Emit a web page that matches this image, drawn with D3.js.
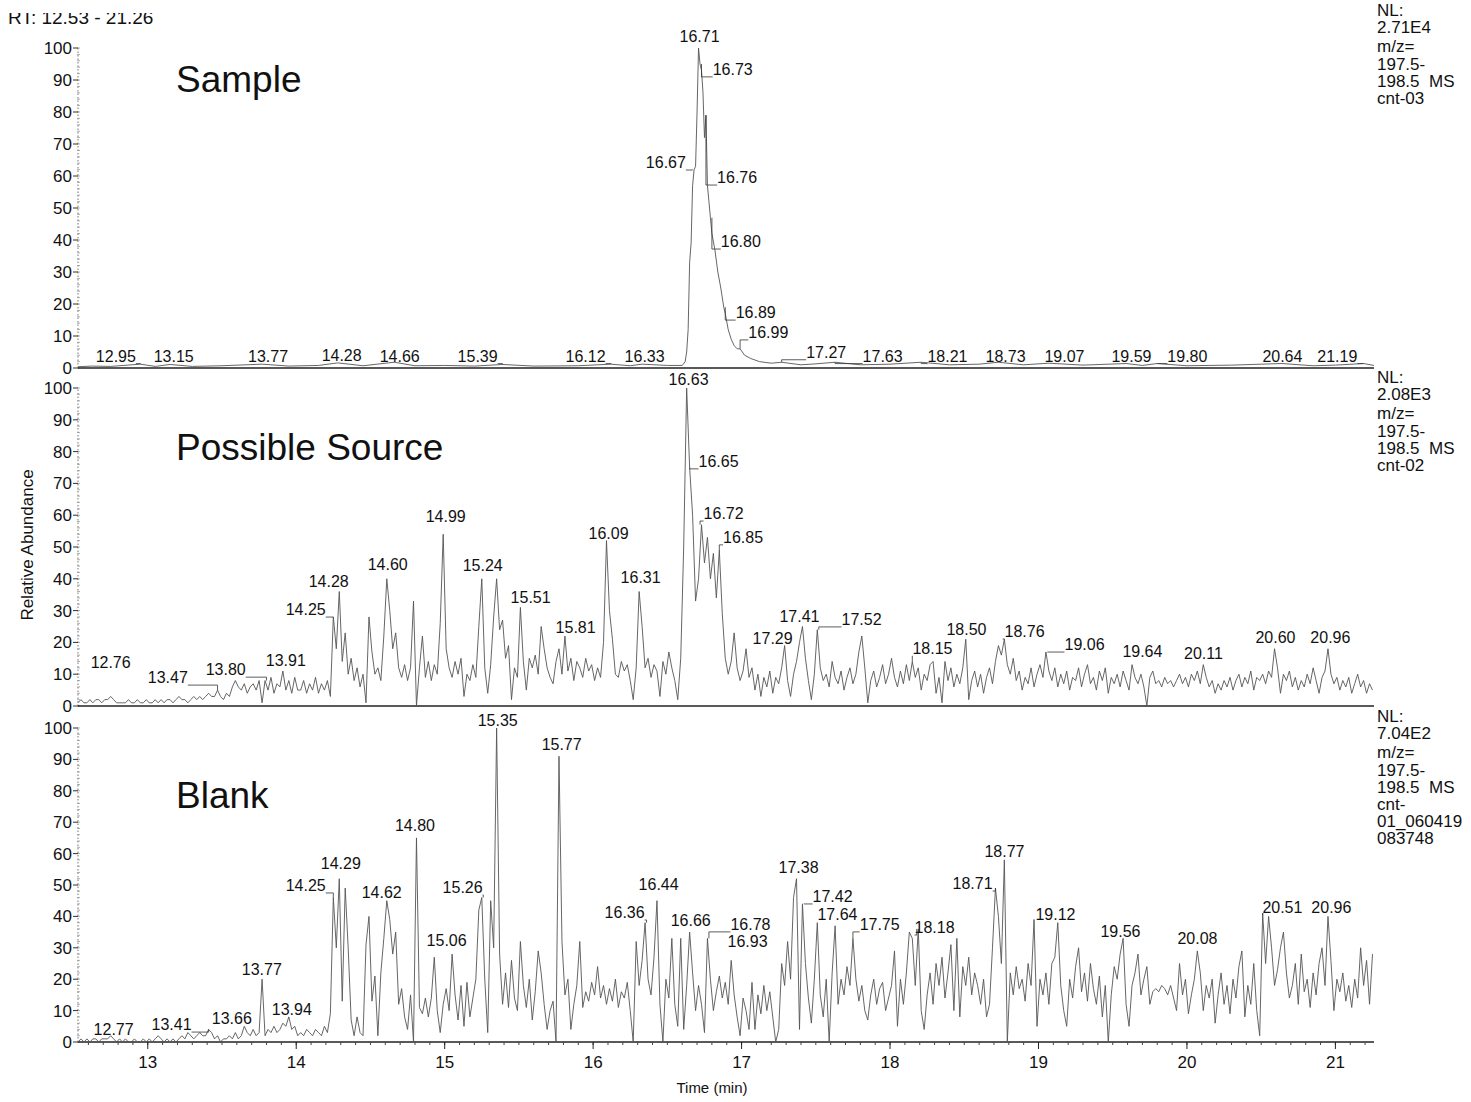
<!DOCTYPE html>
<html>
<head>
<meta charset="utf-8">
<script src="https://cdn.jsdelivr.net/npm/d3@7/dist/d3.min.js"></script>
<style>
  body { margin: 0; background: #fff; }
  text { font-family: "Liberation Sans", Arial, sans-serif; fill: #111; }
</style>
</head>
<body>
<div id="chart"></div>
<script>
////////////////////////////////////////////////////////////////////////////////
// Data (relative abundance, %)
const scanStart = 12.53;   // first scan (min)
const scanStep = 0.02;     // minutes between the values below
const timeDomain = [12.53, 21.26];
const timeTicks = [13, 14, 15, 16, 17, 18, 19, 20, 21];
const abundanceTicks = [0, 10, 20, 30, 40, 50, 60, 70, 80, 90, 100];

// Sample: flat baseline except the one peak, [time, abundance]
const samplePoints = [
  [12.53,0.4],[12.62,0.6],[12.75,0.5],[12.95,1.2],[13.05,0.5],[13.15,1.1],[13.3,0.5],[13.5,0.7],
  [13.77,1.2],[13.95,0.6],[14.15,0.8],[14.28,1.6],[14.45,0.7],[14.66,1.8],[14.8,0.7],[15.0,0.8],
  [15.2,0.6],[15.39,1.1],[15.6,0.6],[15.9,0.7],[16.12,1.2],[16.25,0.7],[16.33,1.2],[16.5,0.8],
  [16.6,0.8],[16.62,2],[16.63,5],[16.64,12],[16.65,33],[16.66,39],[16.67,57],[16.68,62],[16.69,63],
  [16.70,80],[16.71,100],[16.72,95],[16.73,93],[16.74,86],[16.75,72],[16.76,79],[16.77,57],[16.78,52],
  [16.79,47],[16.80,42],[16.82,37],[16.84,30],[16.86,25],[16.88,19],[16.89,17],[16.91,12],[16.93,9],
  [16.95,7],[16.97,6],[16.99,6],[17.02,4],[17.06,3],[17.12,2],[17.2,1.5],[17.27,1.8],[17.4,1],
  [17.5,1.3],[17.63,1.8],[17.8,1],[18.0,1.2],[18.21,1.8],[18.4,1],[18.6,1.2],[18.73,1.8],[18.9,1],
  [19.07,1.5],[19.3,0.9],[19.59,1.4],[19.7,0.8],[19.8,1.4],[20.0,0.7],[20.3,0.9],[20.64,1.4],
  [20.85,0.7],[21.0,0.9],[21.19,1.4],[21.26,0.8]
];

// Possible Source: one value per scan from 12.53 min
const sourceValues = [
  1,2,1,1,2, 1,2,2,1,2, 2,3,2,1,1, 1,1,2,1,1, 2,1,1,2,1,
  1,2,1,2,1, 2,2,1,2,3, 2,2,1,2,3, 2,3,2,3,4, 3,3,5,3,2,
  4,3,6,8,6, 5,7,4,6,7, 5,8,1,8,5, 9,4,7,6,11, 5,8,4,9,5,
  5,8,4,7,5, 9,4,7,5,8, 3,28,18,36,14, 23,10,15,8,12, 6,10,1,28,17,
  10,12,8,22,40, 30,18,23,12,9, 13,8,12,33,0, 12,22,9,14,8, 13,10,26,54,18,
  12,9,14,10,15, 3,10,8,13,9, 25,40,12,4,13, 28,40,24,27,15, 19,2,12,9,31,
  14,5,15,12,16, 10,25,18,12,9, 7,14,18,10,22, 11,15,8,14,12, 9,15,11,13,8,
  12,9,20,52,30, 21,10,9,14,11, 13,8,2,12,36, 25,12,15,9,13, 11,3,14,10,17,
  12,8,2,15,50, 100,75,60,33,40, 57,45,53,40,48, 34,49,29,15,10, 14,23,12,8,11,
  18,9,12,5,10, 3,9,6,11,4, 9,7,12,19,8, 3,10,14,20,25, 15,8,2,10,24,
  12,8,10,6,14, 9,7,11,5,9, 12,7,10,17,22, 12,1,8,11,6, 9,13,7,10,15,
  9,6,11,7,13, 8,14,9,12,5, 10,8,13,14,4, 9,1,14,8,12, 6,10,7,12,21,
  2,8,11,6,10, 4,9,12,7,14, 19,16,21,13,10, 15,8,11,5,9, 7,12,6,10,13,
  9,17,11,8,12, 6,10,7,11,5, 9,8,12,6,10, 13,7,9,5,11, 8,12,4,9,7,
  10,6,11,8,5, 13,9,7,10,6, 0,9,11,7,8, 6,9,7,8,6, 8,10,7,9,6,
  10,8,11,7,13, 9,6,8,4,7, 5,8,6,9,5, 8,10,6,9,7, 11,5,9,8,10,
  7,11,9,18,12, 4,10,8,11,6, 9,5,8,6,10, 7,12,8,4,9, 11,18,10,7,9,
  5,8,6,9,4, 7,10,6,8,4, 7,5
];

// Blank: one value per scan from 12.53 min
const blankValues = [
  0,1,0,1,0, 1,1,0,1,1, 1,2,1,0,1, 0,1,0,0,1, 0,0,1,0,1,
  0,1,2,1,0, 1,0,1,0,1, 2,1,3,2,1, 2,3,2,2,4, 3,1,2,0,1,
  1,2,1,3,1, 2,5,3,2,4, 2,3,20,2,4, 3,5,3,4,6, 5,8,4,5,2,
  3,2,4,3,2, 4,3,2,5,3, 9,46,30,52,13, 49,30,7,2,8, 3,2,31,40,13,
  21,2,22,33,45, 39,28,35,12,17, 8,4,15,0,65, 11,9,14,8,14, 27,10,3,12,17,
  10,28,15,7,18, 5,19,8,14,20, 42,46,20,3,45, 30,100,28,12,22, 11,26,14,10,32,
  18,11,20,7,16, 29,22,12,4,10, 13,0,91,32,15, 20,4,12,18,32, 11,16,13,19,15,
  24,14,18,12,17, 13,20,11,16,14, 19,10,0,32,18, 26,38,20,15,27, 45,12,0,20,14,
  33,12,5,33,4, 18,35,22,10,18, 12,3,33,20,10, 16,21,14,19,12, 26,15,8,2,14,
  10,4,19,4,15, 9,18,10,16,8, 0,4,25,18,32, 20,46,52,4,44, 25,14,6,20,38,
  15,8,20,0,22, 37,12,20,15,24, 18,33,20,13,18, 10,7,15,20,12, 17,19,10,14,18,
  29,5,20,12,22, 35,33,18,36,10, 4,15,22,12,25, 18,27,14,22,31, 10,33,8,24,18,
  27,15,22,18,12, 20,8,12,30,49, 40,25,58,0,22, 15,24,17,20,13, 25,18,39,5,20,
  15,22,12,25,27, 38,18,10,5,20, 14,24,30,16,22, 13,25,17,12,21, 8,18,0,15,24,
  20,28,33,12,5, 18,22,28,15,20, 24,12,16,17,16, 18,17,15,18,14, 10,25,15,20,9,
  15,20,29,22,10, 18,14,20,6,15, 22,12,18,9,20, 14,24,29,8,18, 12,25,10,2,41,
  25,40,30,18,23, 30,35,22,14,18, 25,12,28,16,20, 11,22,15,25,30, 18,40,26,10,20,
  16,22,13,18,11, 20,14,30,18,26, 12,28
];

// Peak labels: [retention time, label centre (min), label baseline (%)]
const sampleLabels = [
  ['12.95',12.785,2],['13.15',13.175,2],['13.77',13.81,2],['14.28',14.306,2.2],['14.66',14.697,2],
  ['15.39',15.222,2],['16.12',15.949,2],['16.33',16.347,2],['16.71',16.717,101.9],['16.73',16.94,91.6],
  ['16.67',16.49,62.5],['16.76',16.97,57.8],['16.80',16.995,37.8],['16.89',17.095,15.6],['16.99',17.18,9.4],
  ['17.27',17.57,3.2],['17.63',17.95,2],['18.21',18.387,2],['18.73',18.778,2],['19.07',19.175,2],
  ['19.59',19.626,2],['19.80',20.003,2],['20.64',20.643,2],['21.19',21.013,2]
];
const sourceLabels = [
  ['12.76',12.75,11.9],['13.47',13.135,7.2],['13.80',13.525,9.7],['13.91',13.93,12.6],['14.25',14.064,28.6],
  ['14.28',14.219,37.4],['14.60',14.616,42.8],['14.99',15.007,57.9],['15.24',15.256,42.5],['15.51',15.579,32.4],
  ['15.81',15.882,23],['16.09',16.104,52.5],['16.31',16.32,38.7],['16.63',16.643,100.9],['16.65',16.845,75.2],
  ['16.72',16.879,58.8],['16.85',17.01,51.3],['17.29',17.209,19.5],['17.41',17.39,26.4],['17.52',17.808,25.5],
  ['18.15',18.286,16.4],['18.50',18.515,22.3],['18.76',18.906,21.7],['19.06',19.31,17.6],['19.64',19.70,15.4],
  ['20.11',20.111,14.8],['20.60',20.596,19.8],['20.96',20.966,19.8]
];
const blankLabels = [
  ['12.77',12.77,2.2],['13.41',13.16,3.8],['13.66',13.566,5.7],['13.77',13.768,21.3],['13.94',13.97,8.6],
  ['14.25',14.064,48.1],['14.29',14.30,55.1],['14.62',14.576,45.9],['14.80',14.80,67.2],['15.06',15.013,30.6],
  ['15.26',15.121,47.5],['15.35',15.357,100.6],['15.77',15.788,93],['16.36',16.212,39.5],['16.44',16.441,48.4],
  ['16.66',16.657,36.9],['16.78',17.06,35.7],['16.93',17.04,30.3],['17.38',17.384,53.8],['17.42',17.613,44.6],
  ['17.64',17.646,38.9],['17.75',17.93,35.7],['18.18',18.30,34.7],['18.71',18.556,48.7],['18.77',18.771,58.9],
  ['19.12',19.114,38.9],['19.56',19.552,33.4],['20.08',20.071,31.2],['20.51',20.643,41.1],['20.96',20.973,41.1]
];

const sampleInfo = ['NL:', '2.71E4', 'm/z=', '197.5-', '198.5  MS', 'cnt-03'];
const sourceInfo = ['NL:', '2.08E3', 'm/z=', '197.5-', '198.5  MS', 'cnt-02'];
const blankInfo = ['NL:', '7.04E2', 'm/z=', '197.5-', '198.5  MS', 'cnt-', '01_060419', '083748'];

////////////////////////////////////////////////////////////////////////////////
// Setup
const width = 1471;
const height = 1102;

const toSeries = values => values.map((v, i) => [scanStart + i * scanStep, v]);

const panels = [
  { title: 'Sample', series: samplePoints, labels: sampleLabels, info: sampleInfo,
    bottom: 368, top: 48, titleY: 92, infoY: 16 },
  { title: 'Possible Source', series: toSeries(sourceValues), labels: sourceLabels, info: sourceInfo,
    bottom: 706, top: 388, titleY: 460, infoY: 383 },
  { title: 'Blank', series: toSeries(blankValues), labels: blankLabels, info: blankInfo,
    bottom: 1042, top: 728, titleY: 808, infoY: 722 },
];

const x = d3.scaleLinear()
  .domain(timeDomain)
  .range([78, 1374]);

const svg = d3.select('#chart').append('svg')
  .attr('width', width)
  .attr('height', height);

// header, top of it is cut off in the print
const clip = svg.append('defs').append('clipPath').attr('id', 'rt-clip');
clip.append('rect').attr('x', 0).attr('y', 13).attr('width', 300).attr('height', 20);
svg.append('text')
  .attr('x', 8)
  .attr('y', 24)
  .attr('clip-path', 'url(#rt-clip)')
  .style('font-size', '19px')
  .text('RT: 12.53 - 21.26');

function peakAt (series, rt) {
  const near = series.filter(d => Math.abs(d[0] - rt) < 0.0151);
  if (near.length) return d3.max(near, d => d[1]);
  return series[d3.minIndex(series, d => Math.abs(d[0] - rt))][1];
}

panels.forEach(p => {
  const y = d3.scaleLinear()
    .domain([0, 100])
    .range([p.bottom, p.top]);

  const g = svg.append('g');

  // y axis: dotted spine with ticks
  g.append('line')
    .attr('x1', x(timeDomain[0])).attr('x2', x(timeDomain[0]))
    .attr('y1', y(0)).attr('y2', y(100))
    .attr('stroke', '#777')
    .attr('stroke-dasharray', '1.5,2');

  g.selectAll('.minor')
    .data(d3.range(0, 101, 2))
    .enter().append('line')
      .attr('x1', x(timeDomain[0]) - 1).attr('x2', x(timeDomain[0]) + 2)
      .attr('y1', d => y(d)).attr('y2', d => y(d))
      .attr('stroke', '#999')
      .attr('stroke-width', 0.8);

  g.selectAll('.major')
    .data(abundanceTicks)
    .enter().append('line')
      .attr('x1', x(timeDomain[0]) - 5).attr('x2', x(timeDomain[0]))
      .attr('y1', d => y(d)).attr('y2', d => y(d))
      .attr('stroke', '#333');

  g.selectAll('.ylab')
    .data(abundanceTicks)
    .enter().append('text')
      .attr('x', 72)
      .attr('y', d => y(d) + 6)
      .attr('text-anchor', 'end')
      .style('font-size', '17px')
      .text(d => d);

  // zero line
  g.append('line')
    .attr('x1', x(timeDomain[0])).attr('x2', x(timeDomain[1]))
    .attr('y1', y(0)).attr('y2', y(0))
    .attr('stroke', '#222')
    .attr('stroke-width', 1.3);

  // trace
  const line = d3.line()
    .x(d => x(d[0]))
    .y(d => y(d[1]));

  g.append('path')
    .datum(p.series)
    .attr('d', line)
    .attr('fill', 'none')
    .attr('stroke', '#555')
    .attr('stroke-width', 0.9)
    .attr('stroke-linejoin', 'round');

  // panel title
  g.append('text')
    .attr('x', 176)
    .attr('y', p.titleY)
    .style('font-size', '37px')
    .text(p.title);

  // peak labels with leaders
  p.labels.forEach(([rt, at, level]) => {
    const t = g.append('text')
      .attr('x', x(at))
      .attr('y', y(level))
      .attr('text-anchor', 'middle')
      .style('font-size', '16px')
      .text(rt);
    const half = t.node().getComputedTextLength() / 2;
    const px = x(+rt);
    const lx = x(at);
    if (Math.abs(px - lx) > half - 3) {
      const edge = px > lx ? lx + half : lx - half;
      const ly = y(level) + 2;
      const py = y(peakAt(p.series, +rt));
      g.append('path')
        .attr('d', `M${edge},${ly}H${px}V${py}`)
        .attr('fill', 'none')
        .attr('stroke', '#333')
        .attr('stroke-width', 0.8);
    }
  });

  // scan info on the right
  g.selectAll('.info')
    .data(p.info)
    .enter().append('text')
      .attr('x', 1377)
      .attr('y', (d, i) => p.infoY + i * 17.2 + (i > 1 ? 2 : 0))
      .style('font-size', '17px')
      .style('white-space', 'pre')
      .text(d => d);
});

////////////////////////////////////////////////////////////////////////////////
// Time axis under the last panel
const axisY = panels[2].bottom;

svg.selectAll('.xminor')
  .data(d3.range(126, 213).map(d => d / 10))
  .enter().append('line')
    .attr('x1', d => x(d)).attr('x2', d => x(d))
    .attr('y1', axisY).attr('y2', axisY + 3)
    .attr('stroke', '#444');

svg.selectAll('.xmajor')
  .data(timeTicks)
  .enter().append('line')
    .attr('x1', d => x(d)).attr('x2', d => x(d))
    .attr('y1', axisY).attr('y2', axisY + 7)
    .attr('stroke', '#222');

svg.selectAll('.xlab')
  .data(timeTicks)
  .enter().append('text')
    .attr('x', d => x(d))
    .attr('y', axisY + 26)
    .attr('text-anchor', 'middle')
    .style('font-size', '17px')
    .text(d => d);

svg.append('text')
  .attr('x', 712)
  .attr('y', 1093)
  .attr('text-anchor', 'middle')
  .style('font-size', '15px')
  .text('Time (min)');

svg.append('text')
  .attr('transform', 'translate(33, 545) rotate(-90)')
  .attr('text-anchor', 'middle')
  .style('font-size', '17px')
  .text('Relative Abundance');
</script>
</body>
</html>
